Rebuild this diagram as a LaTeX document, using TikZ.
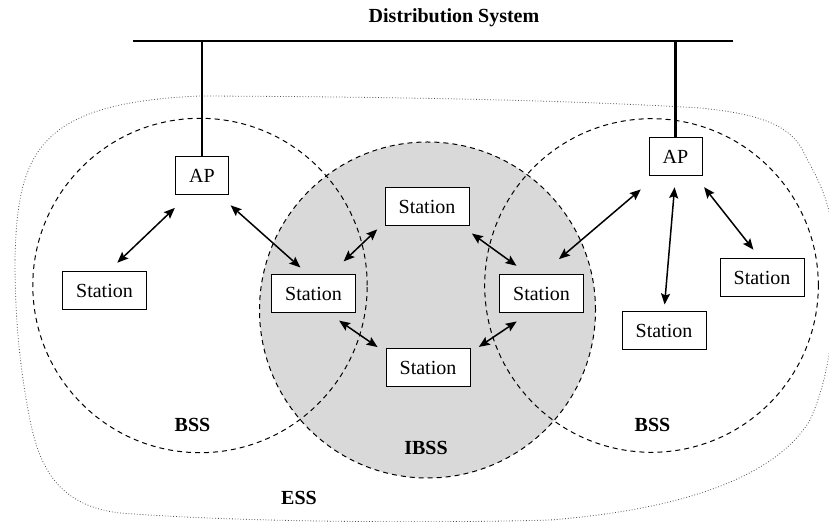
\documentclass[tikz,border=0pt]{standalone}
\usepackage{fontspec}
\setmainfont{Liberation Serif}
\usepackage{tikz}
\usetikzlibrary{arrows.meta}
\definecolor{gray217}{HTML}{D9D9D9}
\tikzstyle{station}=[rectangle, draw=black, fill=white, line width=0.5pt, minimum width=42pt, minimum height=19pt, inner sep=0pt]
\tikzstyle{accesspt}=[station, minimum width=26.5pt]
\tikzstyle{link}=[line width=0.75pt, {Stealth[length=5.5pt,width=4.5pt,inset=1pt]}-{Stealth[length=5.5pt,width=4.5pt,inset=1pt]}]
\tikzstyle{cell}=[dash pattern=on 2.5pt off 2pt, line width=0.5pt]
\tikzstyle{wire}=[line width=1.4pt]
\tikzstyle{tag}=[font=\fontsize{10}{12}\selectfont\bfseries]

\begin{document}
\begin{tikzpicture}[x=0.5pt, y=-0.5pt, font=\fontsize{10}{12}\selectfont]
			\useasboundingbox (0,0) rectangle (829,522);
			% ESS outline
			\draw[densely dotted, line width=0.4pt, black!70]
				(15,260) .. controls (17,150) and (40,103) .. (200,96)
				.. controls (450,97) and (600,102) .. (700,108)
				.. controls (760,114) and (792,125) .. (805,155)
				.. controls (815,175) and (826,190) .. (833,230)
				.. controls (838,300) and (833,370) .. (810,420)
				.. controls (780,470) and (700,508) .. (550,520)
				.. controls (450,523) and (250,523) .. (120,513)
				.. controls (60,506) and (40,470) .. (30,420)
				.. controls (20,370) and (15,320) .. (15,260);
			% cells
			\filldraw[cell, fill=gray217] (427.5,310) circle[radius=84pt];
			\draw[cell] (200,285.5) circle[radius=83.6pt];
			\draw[cell] (651.5,285.5) circle[radius=83.4pt];
			% distribution system
			\node[tag] (ds) at (454,18) {Distribution System};
			\coordinate (bus1) at (133,41);
			\coordinate (bus2) at (733,41);
			\draw[wire] (bus1)--(bus2);
			\node[accesspt] (ap1) at (202,176) {AP};
			\node[accesspt] (ap2) at (675.5,157) {AP};
			\draw[wire] (ap1.north)--(ap1.north |- bus1);
			\draw[wire] (ap2.north)--(ap2.north |- bus1);
			% stations
			\node[station] (s1) at (104.5,290.5) {Station};
			\node[station] (s2) at (313.5,294) {Station};
			\node[station] (s3) at (427,207) {Station};
			\node[station] (s4) at (428,368) {Station};
			\node[station] (s5) at (541.5,293.5) {Station};
			\node[station] (s6) at (664,331) {Station};
			\node[station] (s7) at (762,277.5) {Station};
			% links
			\draw[link, shorten <=9pt, shorten >=6pt] (ap1.234)--(s1.78);
			\draw[link, shorten <=7.4pt, shorten >=5.3pt] (ap1.312)--(s2.105);
			\draw[link, shorten <=9.5pt, shorten >=5pt] (s2.50)--(s3.200);
			\draw[link, shorten <=6.3pt, shorten >=4.8pt] (s2.308)--(s4.160);
			\draw[link, shorten <=6pt, shorten >=7pt] (s3.331)--(s5.125);
			\draw[link, shorten <=5pt, shorten >=7.6pt] (s4.20)--(s5.238);
			\draw[link, shorten <=11.5pt, shorten >=10pt] (s5.north)--(ap2.225);
			\draw[link, shorten <=5.4pt, shorten >=3.5pt] (ap2.south)--(s6.north);
			\draw[link, shorten <=6.8pt, shorten >=5.3pt] (ap2.316)--(s7.96);
			% labels
			\node[tag] (bss1) at (192.5,425) {BSS};
			\node[tag] (bss2) at (652.5,425) {BSS};
			\node[tag] (ibss) at (426,448) {IBSS};
			\node[tag] (ess) at (299,497.5) {ESS};
		\end{tikzpicture}
\end{document}
